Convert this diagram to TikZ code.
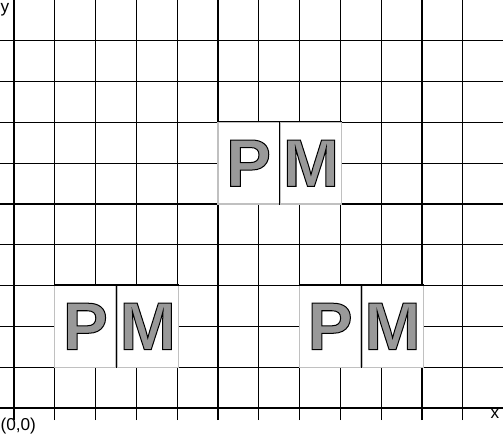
\documentclass[tikz,border=0pt]{standalone}
\usepackage{fontspec}
\setmainfont{Liberation Sans}
\usetikzlibrary{positioning}
\definecolor{lettergray}{HTML}{999999}
\definecolor{boxgray}{HTML}{C0C0C0}
% outlined letters: fill in the current colour, stroke in black
\newcommand{\outl}[1]{\special{pdf:literal direct 0 0 0 RG 0.7 w 2 Tr}#1\special{pdf:literal direct 0 Tr}}
\tikzset{
  letterbox/.style={draw=boxgray,fill=white,minimum width=1.5cm,minimum height=2cm,inner sep=0pt,
    font=\fontsize{47}{50}\selectfont\bfseries,text=lettergray},
  axislabel/.style={inner sep=0pt,font=\fontsize{12}{14}\selectfont}
}
\begin{document}
\begin{tikzpicture}[line width=0.8pt]
    \useasboundingbox (-0.343,-0.686) rectangle (12.01,10);
    \draw (-0.35,-0.3) grid (11.99,9.99);
    \node[axislabel,anchor=north west] (ylab) at (-0.343,9.93) {y};
    \node[axislabel] (xlab) at (11.79,-0.15) {x};
    \node[axislabel,anchor=north west] (origin) at (-0.343,-0.24) {(0,0)};
    % bottom left
    \node[letterbox] (p1) at (1.75,2) {\outl{P}};
    \node[letterbox,right=0pt of p1] (m1) {\outl{M}};
    % top
    \node[letterbox] (p2) at (5.75,6) {\outl{P}};
    \node[letterbox,right=0pt of p2] (m2) {\outl{M}};
    % bottom right
    \node[letterbox] (p3) at (7.75,2) {\outl{P}};
    \node[letterbox,right=0pt of p3] (m3) {\outl{M}};
    \draw (p1.north west) -- (m1.north east) (p1.north east) -- (p1.south east);
    \draw (p2.north west) -- (m2.north east) (p2.north east) -- (p2.south east);
    \draw (p3.north west) -- (m3.north east) (p3.north east) -- (p3.south east);
\end{tikzpicture}
\end{document}
